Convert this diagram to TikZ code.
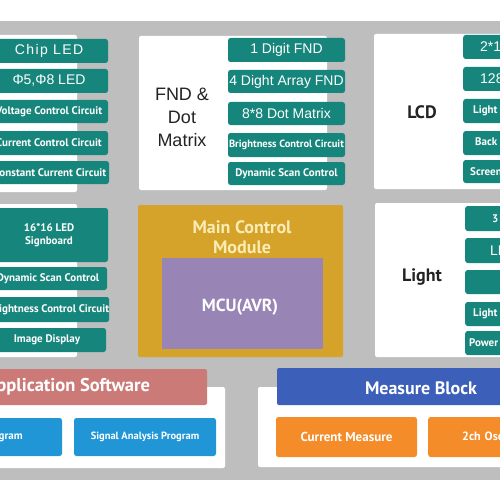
\documentclass[tikz,border=0pt]{standalone}
\usepackage{fontspec}
\setmainfont{Liberation Sans}
\newfontfamily\pts{PT Sans}
\definecolor{bggray}{RGB}{190,190,190}
\definecolor{teal1}{RGB}{22,134,124}
\definecolor{gold1}{RGB}{214,163,42}
\definecolor{purple1}{RGB}{152,133,181}
\definecolor{pink1}{RGB}{204,122,120}
\definecolor{blue1}{RGB}{32,150,214}
\definecolor{navy1}{RGB}{60,96,186}
\definecolor{orange1}{RGB}{244,140,42}
\definecolor{cream1}{RGB}{250,236,180}
\definecolor{ink}{RGB}{35,35,35}
\tikzset{
  panel/.style={fill=white, rounded corners=2pt},
  tbox/.style={fill=teal1, rounded corners=2.5pt, text=white, inner sep=0pt, align=center},
  rbox/.style={tbox, anchor=west, align=left},
  bigtxt/.style={font=\fontsize{14}{16}\selectfont},
  smalltxt/.style={font=\pts\bfseries\fontsize{11}{12.5}\selectfont},
  headtxt/.style={font=\pts\bfseries\fontsize{18}{20}\selectfont},
  subtxt/.style={font=\pts\bfseries\fontsize{11}{13}\selectfont, text=white},
}
\begin{document}
\begin{tikzpicture}[x=1pt,y=-1pt]
\useasboundingbox (0,0) rectangle (500,500);
\clip (0,0) rectangle (500,500);
\fill[white] (0,0) rectangle (500,500);
\fill[bggray] (-5,21) rectangle (505,480);

% ---------- row 1 ----------
\path[panel] (-10,35) rectangle (77,192);
\node[tbox, font=\addfontfeature{LetterSpace=10}\fontsize{14}{16}\selectfont, minimum width=118, minimum height=24] (chip) at (49,51) {Chip\ LED};
\node[tbox, bigtxt, minimum width=118, minimum height=24] (phi) at (49,81) {Φ5,Φ8 LED};
\node[tbox, smalltxt, minimum width=118, minimum height=23] (volt) at (49,111.5) {Voltage Control Circuit};
\node[tbox, smalltxt, minimum width=118, minimum height=24] (curr) at (49,143) {Current Control Circuit};
\node[tbox, smalltxt, minimum width=118, minimum height=23] (const) at (50,172.5) {Constant Current Circuit};

\path[panel] (139,36) rectangle (327,190);
\node[font=\fontsize{18}{23}\selectfont, text=ink, align=center] (fnd) at (182,117) {FND \&\\Dot\\Matrix};
\node[tbox, bigtxt, minimum width=117, minimum height=24] (d1) at (286.5,50) {1 Digit FND};
\node[tbox, bigtxt, minimum width=117, minimum height=23] (d4) at (286.5,81.5) {4 Dight Array FND};
\node[tbox, bigtxt, minimum width=117, minimum height=23] (dm) at (286.5,113.5) {8*8 Dot Matrix};
\node[tbox, smalltxt, font=\pts\bfseries\fontsize{10.5}{12}\selectfont, minimum width=117, minimum height=24] (fbr) at (286.5,145) {Brightness Control Circuit};
\node[tbox, smalltxt, minimum width=117, minimum height=23] (fdy) at (286.5,173.5) {Dynamic Scan Control};

\path[panel] (374,34) rectangle (520,189);
\node[headtxt, text=ink] (lcd) at (422,112) {LCD};
\node[rbox, bigtxt, inner xsep=17, text width=90, minimum height=24] (l1) at (463,47) {2*16 LCD};
\node[rbox, bigtxt, inner xsep=17, text width=90, minimum height=24] (l2) at (463,79) {128*64 LCD};
\node[rbox, smalltxt, inner xsep=10, text width=100, minimum height=24] (l3) at (463,111) {Light Emitting};
\node[rbox, smalltxt, inner xsep=12, text width=100, minimum height=24] (l4) at (463,143) {Back Light};
\node[rbox, smalltxt, inner xsep=7, text width=100, minimum height=23] (l5) at (463,171.5) {Screen Control};

% ---------- row 2 ----------
\path[panel] (-10,204) rectangle (77,357);
\node[tbox, smalltxt, minimum width=118, minimum height=54] (sign) at (49,235) {16*16 LED\\Signboard};
\node[tbox, smalltxt, minimum width=118, minimum height=23] (sdy) at (48,278.5) {Dynamic Scan Control};
\node[tbox, smalltxt, minimum width=118, minimum height=25] (sbr) at (49,309.5) {Brightness Control Circuit};
\node[tbox, smalltxt, minimum width=118, minimum height=24] (img) at (47,340) {Image Display};

\path[fill=gold1, rounded corners=2pt] (138,205) rectangle (343,357);
\node[text=cream1, align=center, font=\pts\bfseries\fontsize{18}{19.5}\selectfont] (mcm) at (242,237) {Main Control\\Module};
\path[fill=purple1] (162,258) rectangle (323,349);
\node[text=white, font=\pts\bfseries\fontsize{17.5}{19}\selectfont] (mcu) at (240,307) {MCU(AVR)};

\path[panel] (375,203) rectangle (520,357);
\node[headtxt, text=ink] (light) at (422,277) {Light};
\node[rbox, smalltxt, inner xsep=27, text width=90, minimum height=25] (g1) at (465,218.5) {3 Color LED};
\node[rbox, bigtxt, inner xsep=25, text width=90, minimum height=25] (g2) at (465,250.5) {LED Bar};
\node[rbox, smalltxt, inner xsep=25, text width=90, minimum height=24] (g3) at (465,282) {};
\node[rbox, smalltxt, inner xsep=8, text width=100, minimum height=24] (g4) at (465,314) {Light Brightness};
\node[rbox, smalltxt, inner xsep=4, text width=100, minimum height=24] (g5) at (465,343) {Power Control};

% ---------- row 3 ----------
\path[panel] (-10,387) rectangle (225,468);
\path[fill=pink1, rounded corners=2pt] (-10,369) rectangle (207,405);
\node[text=white, anchor=east, font=\pts\bfseries\fontsize{18.5}{20}\selectfont] (app) at (153.5,387) {Application Software};
\node[fill=blue1, rounded corners=2.5pt, minimum width=72, minimum height=38] (p1) at (26,437) {};
\node[subtxt, anchor=east, inner sep=0pt] (p1t) at (23,437) {Program};
\node[fill=blue1, rounded corners=2.5pt, minimum width=142, minimum height=38, subtxt, font=\pts\bfseries\fontsize{10.5}{12}\selectfont] (p2) at (145,437) {Signal Analysis Program};

\path[panel] (258,387) rectangle (520,467);
\path[fill=navy1, rounded corners=2pt] (277,368) rectangle (520,405);
\node[text=white, font=\pts\bfseries\fontsize{18}{20}\selectfont] (meas) at (421,388) {Measure Block};
\node[fill=orange1, rounded corners=2.5pt, minimum width=141, minimum height=40, subtxt, font=\pts\bfseries\fontsize{13}{15}\selectfont] (m1) at (346.5,437) {Current Measure};
\node[fill=orange1, rounded corners=2.5pt, anchor=west, align=left, inner xsep=34, text width=100, minimum height=40, subtxt, font=\pts\bfseries\fontsize{12}{14}\selectfont] (m2) at (428,437) {2ch Oscilloscope};
\end{tikzpicture}
\end{document}
